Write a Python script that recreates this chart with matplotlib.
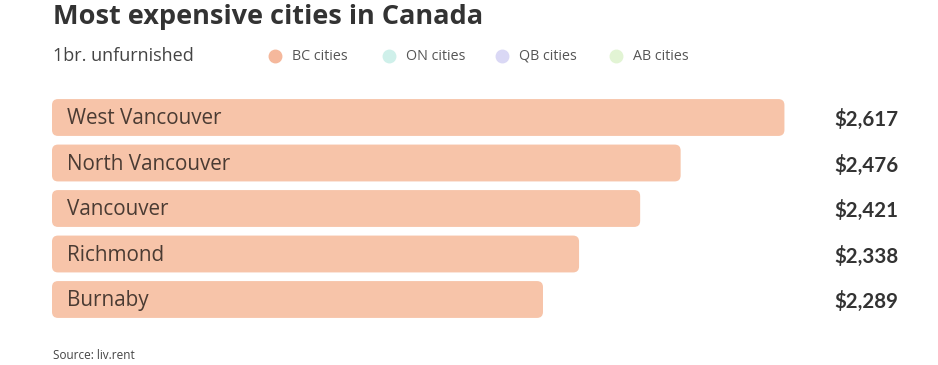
import matplotlib.pyplot as plt
from matplotlib.patches import FancyBboxPatch
from matplotlib.lines import Line2D

cities = ["West Vancouver", "North Vancouver", "Vancouver", "Richmond", "Burnaby"]
rents = [2617, 2476, 2421, 2338, 2289]
rent_labels = ["$2,617", "$2,476", "$2,421", "$2,338", "$2,289"]

legend_labels = ["BC cities", "ON cities", "QB cities", "AB cities"]
legend_colors = ["#F5B89C", "#CFF0EA", "#DAD8F5", "#E2F4D4"]

bar_color = "#F7C4A9"
W, H = 938, 365

fig = plt.figure(figsize=(W / 100, H / 100), dpi=100)
fig.patch.set_facecolor("white")

# axes placed in pixel terms: bars start at x=52, scale ends at 900
ax_left, ax_right = 52, 900
ax_top, ax_bot = 94.75, 322.25
ax = fig.add_axes([ax_left / W, 1 - ax_bot / H, (ax_right - ax_left) / W, (ax_bot - ax_top) / H])
x0, x1 = 1622, 2774
ax.set_xlim(x0, x1)
ax.set_ylim(4.5, -0.5)
ax.axis("off")

bars = ax.barh(range(len(cities)), [r - x0 for r in rents], left=x0, height=0.81, color=bar_color)

# swap rectangles for rounded boxes
xpp = (x1 - x0) / (ax_right - ax_left)
ypp = 5 / (ax_bot - ax_top)
for b in bars:
    b.set_visible(False)
    fb = FancyBboxPatch((b.get_x(), b.get_y()), b.get_width(), b.get_height(),
                        boxstyle="round,pad=0,rounding_size=%f" % (6 * xpp),
                        mutation_aspect=ypp / xpp, facecolor=bar_color, edgecolor="none")
    ax.add_patch(fb)

for i, (c, lab) in enumerate(zip(cities, rent_labels)):
    ax.text(x0 + 15 * xpp, i + 0.03, c, va="center", ha="left", fontsize=14.9,
            family="Open Sans", color="#4A3B33")
    ax.text(1.0 - 2 / (ax_right - ax_left), i + 0.05, lab, transform=ax.get_yaxis_transform(),
            va="center", ha="right", fontsize=14.8, family="Lato", fontweight="bold",
            color="#333333")

fig.text(53 / W, 1 - 24 / H, "Most expensive cities in Canada", fontsize=19.5,
         family="Open Sans", fontweight="bold", color="#333333", va="baseline")
fig.text(53 / W, 1 - 61 / H, "1br. unfurnished", fontsize=13,
         family="Open Sans", color="#444444", va="baseline")

dot_x = [275, 389, 502, 616]
for dx, lab, col in zip(dot_x, legend_labels, legend_colors):
    fig.add_artist(Line2D([dx / W], [1 - 55.5 / H], marker="o", markersize=9,
                          color=col, linestyle="none", transform=fig.transFigure))
    fig.text((dx + 17) / W, 1 - 60 / H, lab, fontsize=10.3, family="Open Sans",
             color="#555555", va="baseline")

fig.text(53 / W, 1 - 359 / H, "Source: liv.rent", fontsize=8.5, family="Open Sans",
         color="#444444", va="baseline")

fig.savefig("out.png", dpi=100, facecolor="white")
